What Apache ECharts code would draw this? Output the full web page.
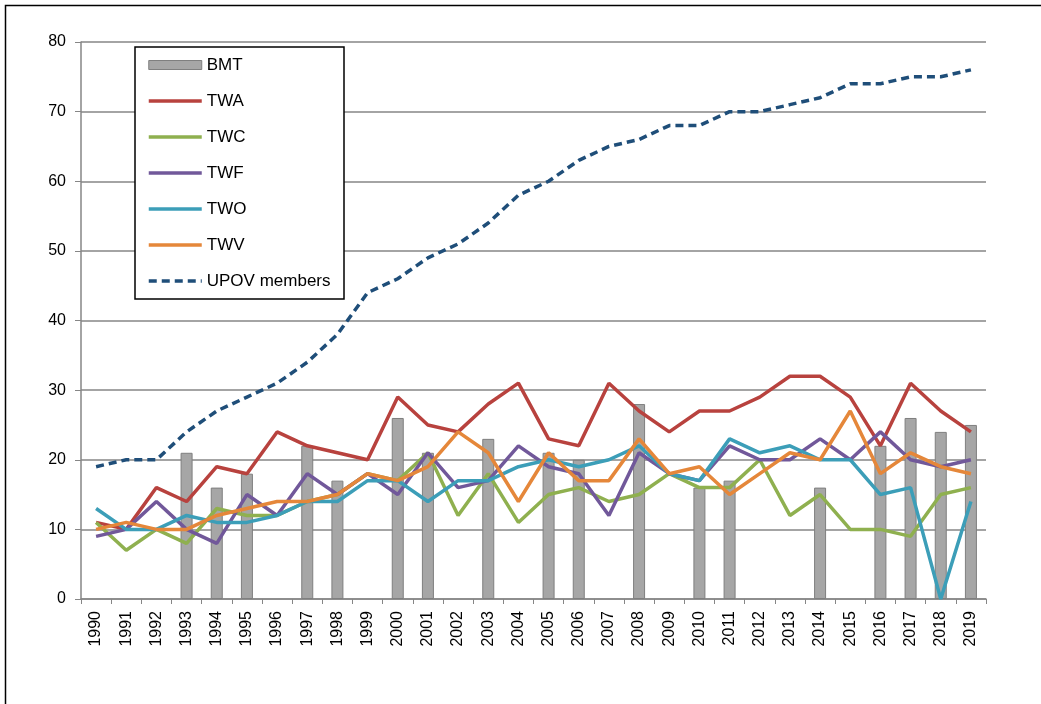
<!DOCTYPE html>
<html>
<head>
<meta charset="utf-8">
<script src="https://cdn.jsdelivr.net/npm/echarts@6/dist/echarts.min.js"></script>
<style>
  html, body { margin: 0; padding: 0; background: #fff; }
  #chart { width: 1041px; height: 704px; }
</style>
</head>
<body>
<div id="chart"></div>
<script>
// years on the x axis
var years = ['1990', '1991', '1992', '1993', '1994', '1995', '1996', '1997', '1998', '1999',
  '2000', '2001', '2002', '2003', '2004', '2005', '2006', '2007', '2008', '2009',
  '2010', '2011', '2012', '2013', '2014', '2015', '2016', '2017', '2018', '2019'];

var bmt = [null, null, null, 21, 16, 18, null, 22, 17, null, 26, 21, null, 23, null, 21, 20, null, 28, null,
  16, 17, null, null, 16, null, 22, 26, 24, 25];
var twa = [11, 10, 16, 14, 19, 18, 24, 22, 21, 20, 29, 25, 24, 28, 31, 23, 22, 31, 27, 24,
  27, 27, 29, 32, 32, 29, 22, 31, 27, 24];
var twc = [11, 7, 10, 8, 13, 12, 12, 14, 15, 18, 17, 21, 12, 18, 11, 15, 16, 14, 15, 18,
  16, 16, 20, 12, 15, 10, 10, 9, 15, 16];
var twf = [9, 10, 14, 10, 8, 15, 12, 18, 15, 18, 15, 21, 16, 17, 22, 19, 18, 12, 21, 18,
  17, 22, 20, 20, 23, 20, 24, 20, 19, 20];
var two = [13, 10, 10, 12, 11, 11, 12, 14, 14, 17, 17, 14, 17, 17, 19, 20, 19, 20, 22, 18,
  17, 23, 21, 22, 20, 20, 15, 16, 0, 14];
var twv = [10, 11, 10, 10, 12, 13, 14, 14, 15, 18, 17, 19, 24, 21, 14, 21, 17, 17, 23, 18,
  19, 15, 18, 21, 20, 27, 18, 21, 19, 18];
var upov = [19, 20, 20, 24, 27, 29, 31, 34, 38, 44, 46, 49, 51, 54, 58, 60, 63, 65, 66, 68,
  68, 70, 70, 71, 72, 74, 74, 75, 75, 76];

var lineNames = ['TWA', 'TWC', 'TWF', 'TWO', 'TWV', 'UPOV members'];

var font = '"Liberation Sans", Arial, sans-serif';
var axisGray = '#868686';

function lineSeries (name, data, color, dashed) {
  return {
    name: name,
    type: 'line',
    data: data,
    symbol: 'none',
    z: 3,
    lineStyle: { color: color, width: 3.5, type: dashed ? [8, 5] : 'solid' },
    itemStyle: { color: color }
  };
}

// legend entries: bar gets a square box, lines get no marker dot
var legendData = [{ name: 'BMT', icon: 'rect', itemStyle: { borderWidth: 1, borderColor: '#7F7F7F' } }]
  .concat(lineNames.map(function (n) {
    return { name: n, itemStyle: { opacity: 0 }, lineStyle: { width: 3.5 } };
  }));

var chart = echarts.init(document.getElementById('chart'));

chart.setOption({
  animation: false,
  textStyle: { fontFamily: font },
  graphic: [
    { type: 'rect', shape: { x: 5.5, y: 5.5, width: 1060, height: 740 },
      style: { fill: 'none', stroke: '#000', lineWidth: 1.5 }, z: 0 },
    { type: 'rect', shape: { x: 135, y: 47, width: 209, height: 252 },
      style: { fill: '#fff', stroke: '#000', lineWidth: 1.5 }, z: 10 }
  ],
  grid: { left: 81, top: 42, right: 55, bottom: 105 },
  legend: {
    orient: 'vertical',
    left: 147,
    top: 55,
    z: 20,
    itemWidth: 53,
    itemHeight: 9,
    itemGap: 16,
    padding: 0,
    textStyle: { fontSize: 17, color: '#000', fontFamily: font, lineHeight: 20, padding: [0, 0, 0, 0] },
    data: legendData
  },
  xAxis: {
    type: 'category',
    data: years,
    boundaryGap: true,
    axisLine: { lineStyle: { color: axisGray, width: 1.5 } },
    axisTick: { show: true, length: 5, lineStyle: { color: axisGray } },
    axisLabel: { rotate: 90, fontSize: 16, color: '#000', margin: 12, fontFamily: font, interval: 0 }
  },
  yAxis: {
    type: 'value',
    min: 0,
    max: 80,
    interval: 10,
    axisLine: { show: true, lineStyle: { color: axisGray, width: 1.5 } },
    axisTick: { show: true, length: 6, lineStyle: { color: axisGray } },
    axisLabel: { fontSize: 16, color: '#000', margin: 15, fontFamily: font },
    splitLine: { lineStyle: { color: axisGray, width: 1.5 } }
  },
  series: [
    {
      name: 'BMT',
      type: 'bar',
      data: bmt,
      barWidth: 12,
      z: 2,
      itemStyle: { color: '#A6A6A6', borderColor: '#7F7F7F', borderWidth: 1 }
    },
    lineSeries('TWA', twa, '#B8423E'),
    lineSeries('TWC', twc, '#8FB04F'),
    lineSeries('TWF', twf, '#71589A'),
    lineSeries('TWO', two, '#3C9EB8'),
    lineSeries('TWV', twv, '#E5873A'),
    lineSeries('UPOV members', upov, '#1F4E79', true)
  ]
});
</script>
</body>
</html>
